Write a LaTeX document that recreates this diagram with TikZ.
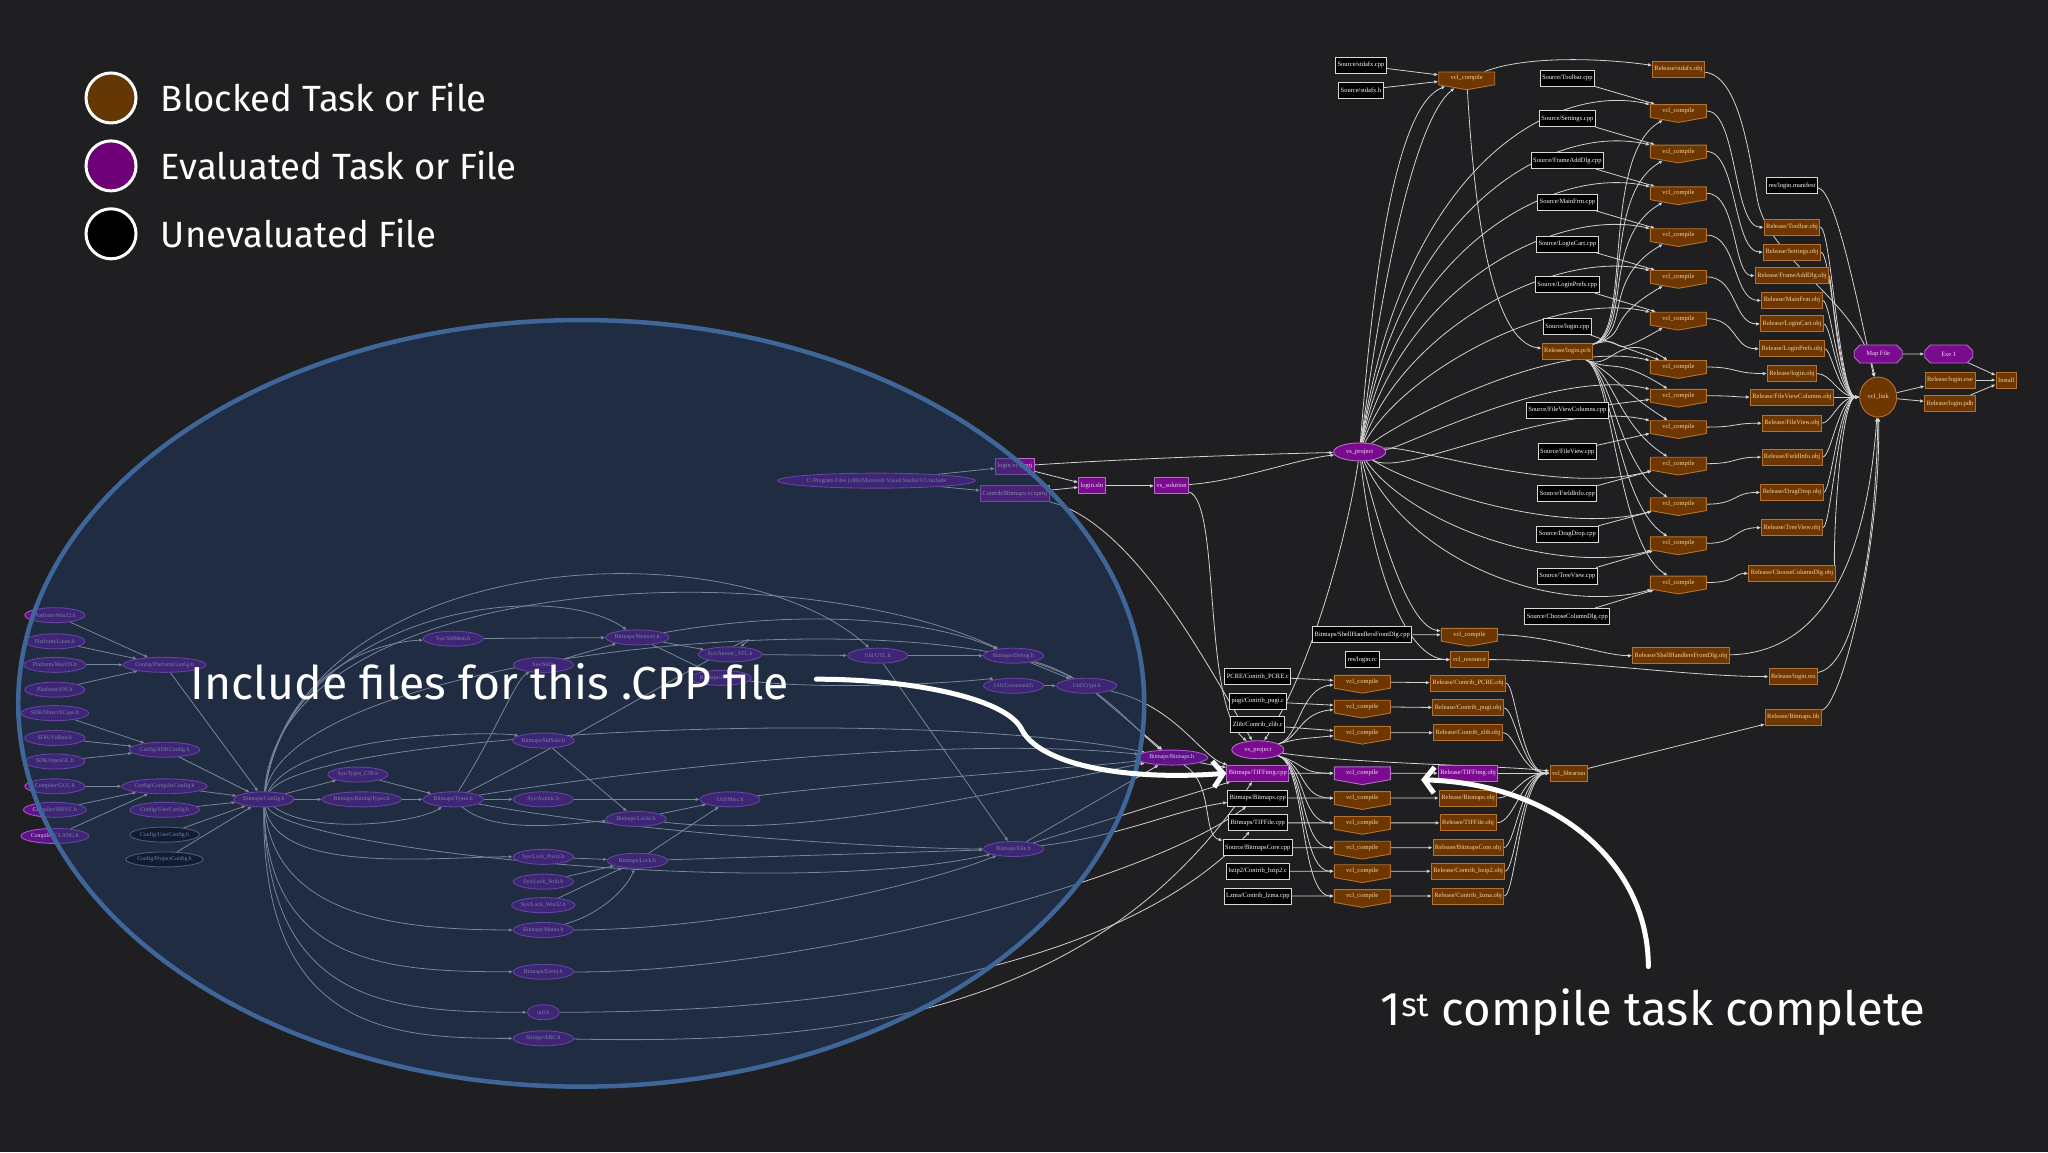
\documentclass[tikz,border=0pt]{standalone}
\usepackage{fontspec}
\newfontfamily\annfont{Fira Sans}
\newfontfamily\lblfont{Liberation Serif}
\usetikzlibrary{shapes.geometric,shapes.symbols,shapes.misc,arrows.meta}
\definecolor{bgc}{HTML}{1F1F21}
\definecolor{edgecol}{HTML}{D2D2D2}
\definecolor{srcdraw}{HTML}{D8D8D8}
\definecolor{brownfill}{HTML}{6E3700}
\definecolor{browndraw}{HTML}{B5722E}
\definecolor{browntext}{HTML}{F7D3A0}
\definecolor{purplefill}{HTML}{7A0A8E}
\definecolor{purpledraw}{HTML}{B070C8}
\definecolor{purpletext}{HTML}{F4D8F8}
\definecolor{incfill}{HTML}{5C1486}
\definecolor{incdraw}{HTML}{B050D8}
\definecolor{inctext}{HTML}{E0C8F8}
\definecolor{ovfill}{HTML}{1F3963}
\definecolor{ovdraw}{HTML}{3F6698}
\definecolor{legbrown}{HTML}{643705}
\definecolor{legpurple}{HTML}{6E0078}
\pgfdeclarelayer{bgl}\pgfdeclarelayer{edl}\pgfdeclarelayer{ovl}
\pgfsetlayers{bgl,edl,main,ovl}
\tikzset{
 nb/.style={font=\lblfont\fontsize{6.5}{6.5}\selectfont, inner sep=2pt, line width=0.9pt},
 src/.style={nb, rectangle, draw=srcdraw, fill=black, text=white, minimum height=16pt},
 task/.style={nb, signal, signal to=south, signal pointer angle=160, draw=browndraw, fill=brownfill, text=browntext, minimum width=56pt, minimum height=16pt},
 obj/.style={nb, rectangle, draw=browndraw, fill=brownfill, text=browntext, minimum height=16pt},
 ptask/.style={task, draw=purpledraw, fill=purplefill, text=purpletext},
 pbox/.style={nb, rectangle, draw=purpledraw, fill=purplefill, text=purpletext, minimum height=16pt},
 pell/.style={nb, ellipse, draw=purpledraw, fill=purplefill, text=purpletext, minimum height=18pt, minimum width=52pt, inner sep=0.5pt},
 poct/.style={nb, chamfered rectangle, draw=purpledraw, fill=purplefill, text=purpletext, minimum height=18pt, minimum width=48pt},
 inc/.style={nb, ellipse, draw=incdraw, fill=incfill, text=inctext, minimum height=15pt, minimum width=60pt, inner sep=0pt, font=\lblfont\fontsize{5.8}{5.8}\selectfont},
 incu/.style={inc, fill=black, draw=gray},
 ed/.style={draw=edgecol, line width=0.8pt, -{Latex[length=4pt,width=3.5pt]}},
 hc/.style={to path={.. controls +(#1,0) and +(-#1,0) .. (\tikztotarget)}},
 hc/.default=30,
 ann/.style={draw=white, line width=5pt, line cap=round, -{Straight Barb[length=10pt,width=26pt]}},
 legc/.style={circle, minimum size=50pt, draw=white, line width=3pt},
 legt/.style={anchor=west, inner sep=0pt, text=white, font=\annfont\fontsize{36.5}{36.5}\selectfont},
 bigt/.style={anchor=west, inner sep=0pt, text=white, font=\annfont\fontsize{46.3}{46.3}\selectfont}
}
\begin{document}
\begin{tikzpicture}[x=1.306122pt,y=-1.306122pt]
\begin{pgfonlayer}{bgl}
\fill[bgc] (0,0) rectangle (1568,882);
\end{pgfonlayer}
\useasboundingbox (0,0) rectangle (1568,882);

% legend
\node[legc, fill=legbrown] (lc1) at (85,75) {};
\node[legc, fill=legpurple] (lc2) at (85,127) {};
\node[legc, fill=black] (lc3) at (85,179) {};
\node[legt] (lt1) at (123,75) {Blocked Task or File};
\node[legt] (lt2) at (123,127) {Evaluated Task or File};
\node[legt] (lt3) at (123,179) {Unevaluated File};

% ---------- right graph ----------
\node[src] (sa) at (1042,50) {Source/stdafx.cpp};
\node[src] (sh) at (1042,69) {Source/stdafx.h};
\node[task] (c0) at (1123,60) {vcl\_compile};
\node[obj] (ra) at (1285,53) {Release/stdafx.obj};
\node[src] (man) at (1372,142) {res/login.manifest};
\node[obj] (pch) at (1200,269) {Release/login.pch};
\foreach \i/\sy/\cy/\ry/\nm in {1/60/85/174/Toolbar, 2/91/116/193/Settings, 3/123/148/211/FrameAddDlg, 4/155/180/230/MainFrm, 5/187/212/248/LoginCart, 6/218/244/267/LoginPrefs, 7/250/281/286/login, 8/314/303/304/FileViewColumns, 9/346/327/324/FileView, 10/378/355/350/FieldInfo, 11/409/386/377/DragDrop, 12/441/416/404/TreeView, 13/472/446/439/ChooseColumnDlg}{
  \node[src] (s\i) at (1200,\sy) {Source/\nm.cpp};
  \node[task] (c\i) at (1285,\cy) {vcl\_compile};
  \node[obj] (r\i) at (1372,\ry) {Release/\nm.obj};
}
\node[obj, ellipse, minimum width=37pt, minimum height=40pt] (link) at (1438,304) {vcl\_link};
\node[poct] (map) at (1438,271) {Map File};
\node[poct] (exe1) at (1492,271) {Exe 1};
\node[obj] (exe) at (1493,291) {Release/login.exe};
\node[obj] (pdb) at (1493,309) {Release/login.pdb};
\node[obj] (inst) at (1536,291) {Install};
\node[pell] (vs) at (1041,346) {vs\_project};

\node[pbox] (A) at (777,357) {login.vcxproj};
\node[pbox] (B) at (777,378) {Contrib/Bitmaps.vcxproj};
\node[pbox] (C) at (836,372) {login.sln};
\node[pbox] (D) at (897,372) {vs\_solution};
\node[inc, minimum width=165pt] (VS) at (671,368) {C:/Program Files (x86)/Microsoft Visual Studio/VC/include};

\node[src] (fd) at (1043,486) {Bitmaps/ShellHandlersFrontDlg.cpp};
\node[task] (cf) at (1125,486) {vcl\_compile};
\node[obj] (rf) at (1287,502) {Release/ShellHandlersFrontDlg.obj};
\node[src] (rc) at (1043,505) {res/login.rc};
\node[obj] (cres) at (1125,505) {vcl\_resource};
\node[obj] (rres) at (1373,518) {Release/login.res};
\node[obj] (blib) at (1373,549) {Release/Bitmaps.lib};

\node[src] (p1) at (963,518) {PCRE/Contrib\_PCRE.c};
\node[task] (k1) at (1043,522) {vcl\_compile};
\node[obj] (o1) at (1124,523) {Release/Contrib\_PCRE.obj};
\node[src] (p2) at (963,537) {pugi/Contrib\_pugi.c};
\node[task] (k2) at (1043,541) {vcl\_compile};
\node[obj] (o2) at (1124,542) {Release/Contrib\_pugi.obj};
\node[src] (p3) at (963,555) {Zlib/Contrib\_zlib.c};
\node[task] (k3) at (1043,561) {vcl\_compile};
\node[obj] (o3) at (1124,561) {Release/Contrib\_zlib.obj};
\node[pell] (vp2) at (963,574) {vs\_project};
\node[pbox] (p4) at (963,592) {Bitmaps/TIFFimg.cpp};
\node[ptask] (k4) at (1043,592) {vcl\_compile};
\node[pbox] (o4) at (1124,592) {Release/TIFFimg.obj};
\node[obj] (lib) at (1201,592) {vcl\_librarian};
\node[src] (p5) at (963,611) {Bitmaps/Bitmaps.cpp};
\node[task] (k5) at (1043,611) {vcl\_compile};
\node[obj] (o5) at (1124,611) {Release/Bitmaps.obj};
\node[src] (p6) at (963,630) {Bitmaps/TIFFile.cpp};
\node[task] (k6) at (1043,630) {vcl\_compile};
\node[obj] (o6) at (1124,630) {Release/TIFFile.obj};
\node[src] (p7) at (963,649) {Source/BitmapsCore.cpp};
\node[task] (k7) at (1043,649) {vcl\_compile};
\node[obj] (o7) at (1124,649) {Release/BitmapsCore.obj};
\node[src] (p8) at (963,667) {bzip2/Contrib\_bzip2.c};
\node[task] (k8) at (1043,667) {vcl\_compile};
\node[obj] (o8) at (1124,667) {Release/Contrib\_bzip2.obj};
\node[src] (p9) at (963,686) {Lzma/Contrib\_lzma.cpp};
\node[task] (k9) at (1043,686) {vcl\_compile};
\node[obj] (o9) at (1124,686) {Release/Contrib\_lzma.obj};

% ---------- left include graph ----------
\node[inc] (L1) at (42,471) {Platform/Win32.h};
\node[inc] (L2) at (42,491) {Platform/Linux.h};
\node[inc] (L3) at (42,509) {Platform/MacOS.h};
\node[inc] (L4) at (42,528) {Platform/iOS.h};
\node[inc] (L5) at (42,546) {SDK/DirectXCaps.h};
\node[inc] (L6) at (42,565) {SDK/Vulkan.h};
\node[inc] (L7) at (42,583) {SDK/OpenGL.h};
\node[inc] (L8) at (42,602) {Compiler/GCC.h};
\node[inc] (L9) at (42,620) {Compiler/MSVC.h};
\node[inc] (L10) at (42,640) {Compiler/CLANG.h};
\node[inc] (K1) at (126,509) {Config/PlatformConfig.h};
\node[inc] (K2) at (126,574) {Config/SDKConfig.h};
\node[inc] (K3) at (126,602) {Config/CompilerConfig.h};
\node[inc] (K4) at (126,620) {Config/UserConfig.h};
\node[incu] (K5) at (126,639) {Config/UserConfig.h};
\node[incu] (K6) at (126,658) {Config/ProjectConfig.h};
\node[inc] (BC) at (202,612) {Bitmaps/Config.h};
\node[inc] (T99) at (274,593) {Sys/Types\_C99.h};
\node[inc] (BT) at (277,612) {Bitmaps/BitmapTypes.h};
\node[inc] (TY) at (347,612) {Bitmaps/Types.h};
\node[inc] (SM) at (347,489) {Sys/StdMem.h};
\node[inc] (ST) at (416,509) {Sys/Std.h};
\node[inc] (BM) at (488,488) {Bitmaps/Memory.h};
\node[inc] (AS) at (559,501) {Sys/Atomic\_STL.h};
\node[inc] (HID) at (552,519) {Bitmaps/Atomic.h};
\node[inc] (UT) at (672,502) {Util/UTL.h};
\node[inc] (BD) at (776,502) {Bitmaps/Debug.h};
\node[inc] (UC) at (776,525) {Util/Command.h};
\node[inc] (CR) at (832,525) {Util/Crypt.h};
\node[inc] (BS) at (416,567) {Bitmaps/StdSafe.h};
\node[inc] (SA) at (416,612) {Sys/Atomic.h};
\node[inc] (UM) at (559,612) {Util/Misc.h};
\node[inc] (BL) at (487,627) {Bitmaps/Locks.h};
\node[inc] (BF) at (776,650) {Bitmaps/File.h};
\node[inc] (LP) at (416,656) {Sys/Lock\_Posix.h};
\node[inc] (BLK) at (488,659) {Bitmaps/Lock.h};
\node[inc] (LS) at (416,675) {Sys/Lock\_Stub.h};
\node[inc] (LW) at (416,693) {Sys/Lock\_Win32.h};
\node[inc] (MX) at (416,712) {Bitmaps/Mutex.h};
\node[inc] (EV) at (416,744) {Bitmaps/Event.h};
\node[inc, minimum width=32pt] (UH) at (416,775) {util.h};
\node[inc] (UA) at (416,795) {Strings/ABC.h};
\node[inc, minimum width=72pt] (BB) at (897,580) {Bitmaps/Bitmaps.h};

% ---------- edges ----------
\begin{pgfonlayer}{edl}
\draw[ed] (sa) -- (c0);
\draw[ed] (sh) -- (c0);
\draw[ed] (c0) .. controls (1170,42) and (1230,45) .. (ra);
\draw[ed] (c0) .. controls (1128,150) and (1140,262) .. (pch);
\draw[ed] (ra) .. controls (1330,58) and (1338,110) .. (1345,150) .. controls (1352,200) and (1425,230) .. (link);
\draw[ed] (man) .. controls (1405,145) and (1422,230) .. (link);
\draw[ed] (vs) .. controls (1052,200) and (1070,80) .. (c0);
\draw[ed] (vs) .. controls (1060,200) and (1085,90) .. (c0);
\foreach \i in {1,...,13}{
  \draw[ed] (s\i) -- (c\i);
  \draw[ed] (c\i) to[hc=45] (r\i);
  \draw[ed] (r\i) to[hc=30] (link);
}
\foreach \i/\y in {1/85,2/116,3/148,4/180,5/212,6/244,7/281,8/303,9/327}{
  \draw[ed] (vs) .. controls (1075,\y+40) and (1190,\y-22) .. (c\i);
}
\foreach \i/\y in {10/355,11/386,12/416,13/446}{
  \draw[ed] (vs) .. controls (1080,\y-15) and (1190,\y+25) .. (c\i);
}
\foreach \i/\y in {1/85,2/116,3/148,4/180,5/212,6/244}{
  \draw[ed] (pch) .. controls (1250,255) and (1225,\y+35) .. (c\i);
}
\foreach \i/\y in {7/281,8/303,9/327,10/355,11/386,12/416,13/446}{
  \draw[ed] (pch) .. controls (1235,285) and (1238,\y-30) .. (c\i);
}
\draw[ed] (link) -- (exe);
\draw[ed] (link) -- (pdb);
\draw[ed] (map) -- (exe1);
\draw[ed] (exe1) -- (inst);
\draw[ed] (exe) -- (inst);
\draw[ed] (pdb) -- (inst);

\draw[ed] (fd) -- (cf);
\draw[ed] (rc) -- (cres);
\draw[ed] (cf) to[hc=60] (rf);
\draw[ed] (cres) to[hc=80] (rres);
\draw[ed] (vs) .. controls (1060,420) and (1080,480) .. (cf);
\draw[ed] (vs) .. controls (1050,430) and (1075,505) .. (cres);
\draw[ed] (vs) .. controls (1030,420) and (1000,520) .. (vp2);
\draw[ed] (rf) .. controls (1400,500) and (1430,420) .. (link);
\draw[ed] (rres) .. controls (1420,510) and (1436,420) .. (link);
\draw[ed] (blib) .. controls (1410,540) and (1440,420) .. (link);
\foreach \i in {1,...,9}{
  \draw[ed] (p\i) -- (k\i);
  \draw[ed] (k\i) -- (o\i);
}
\foreach \i/\y in {1/522,2/541,3/561}{
  \draw[ed] (vp2) .. controls (995,565) and (995,\y+5) .. (k\i);
}
\foreach \i/\y in {4/592,5/611,6/630,7/649,8/667,9/686}{
  \draw[ed] (vp2) .. controls (1000,585) and (995,\y) .. (k\i);
}
\foreach \i/\y in {1/523,2/542,3/561,4/592,5/611,6/630,7/649,8/667,9/686}{
  \draw[ed] (o\i) .. controls (1160,\y) and (1165,592) .. (lib);
}
\draw[ed] (vp2) .. controls (1040,585) and (1150,586) .. (lib);
\draw[ed] (lib) -- (blib);

\draw[ed] (VS) -- (A);
\draw[ed] (VS) -- (B);
\draw[ed] (A) -- (C);
\draw[ed] (B) -- (C);
\draw[ed] (C) -- (D);
\draw[ed] (D) .. controls (950,368) and (990,352) .. (vs);
\draw[ed] (A) .. controls (850,352) and (950,348) .. (vs);
\draw[ed] (D) .. controls (935,385) and (920,540) .. (vp2);
\draw[ed] (B) .. controls (870,400) and (930,520) .. (vp2);

\foreach \a in {L1,L2,L3,L4} \draw[ed] (\a) -- (K1);
\foreach \a in {L5,L6,L7} \draw[ed] (\a) -- (K2);
\foreach \a in {L8,L9,L10} \draw[ed] (\a) -- (K3);
\foreach \a in {K1,K2,K3,K4,K5,K6} \draw[ed] (\a) -- (BC);
\draw[ed] (BC) -- (T99);
\draw[ed] (BC) -- (BT);
\draw[ed] (T99) -- (TY);
\draw[ed] (BT) -- (TY);
\draw[ed] (BC) .. controls (240,640) and (320,630) .. (TY);
\draw[ed] (BC) .. controls (215,520) and (280,492) .. (SM);
\draw[ed] (BC) .. controls (215,440) and (600,420) .. (BD);
\draw[ed] (BC) .. controls (220,470) and (420,440) .. (BM);
\draw[ed] (BC) .. controls (225,500) and (700,455) .. (CR);
\draw[ed] (BC) .. controls (240,560) and (700,540) .. (BB);
\draw[ed] (BC) .. controls (230,420) and (560,400) .. (UT);
\draw[ed] (BC) .. controls (210,700) and (300,712) .. (MX);
\draw[ed] (BC) .. controls (205,740) and (300,744) .. (EV);
\draw[ed] (BC) .. controls (205,770) and (300,775) .. (UH);
\draw[ed] (BC) .. controls (200,790) and (300,795) .. (UA);
\draw[ed] (BC) .. controls (212,670) and (330,656) .. (LP);
\draw[ed] (BC) .. controls (220,650) and (600,690) .. (BF);
\draw[ed] (BC) .. controls (230,560) and (380,560) .. (BS);
\draw[ed] (TY) .. controls (380,560) and (395,520) .. (ST);
\draw[ed] (TY) -- (SA);
\draw[ed] (TY) .. controls (380,640) and (440,630) .. (BL);
\draw[ed] (TY) .. controls (420,600) and (700,560) .. (BB);
\draw[ed] (TY) .. controls (500,640) and (700,650) .. (BF);
\draw[ed] (TY) .. controls (450,560) and (600,470) .. (AS);
\draw[ed] (SM) -- (BM);
\draw[ed] (ST) -- (BM);
\draw[ed] (BM) -- (AS);
\draw[ed] (BM) -- (HID);
\draw[ed] (AS) -- (UT);
\draw[ed] (UT) -- (BD);
\draw[ed] (BM) .. controls (600,468) and (700,470) .. (BD);
\draw[ed] (UC) -- (CR);
\draw[ed] (BD) -- (CR);
\draw[ed] (HID) .. controls (650,530) and (760,520) .. (UC);
\draw[ed] (UT) -- (BF);
\draw[ed] (BS) -- (BL);
\draw[ed] (SA) -- (UM);
\draw[ed] (BL) -- (UM);
\draw[ed] (BLK) -- (UM);
\draw[ed] (LP) -- (BLK);
\draw[ed] (LS) -- (BLK);
\draw[ed] (LW) -- (BLK);
\draw[ed] (MX) .. controls (460,700) and (480,680) .. (BLK);
\draw[ed] (BLK) -- (BF);
\draw[ed] (BL) .. controls (600,640) and (700,620) .. (BB);
\draw[ed] (UM) .. controls (650,600) and (800,590) .. (BB);
\draw[ed] (CR) -- (BB);
\draw[ed] (BD) .. controls (840,520) and (870,560) .. (BB);
\draw[ed] (BF) -- (BB);
\draw[ed] (MX) .. controls (550,712) and (700,680) .. (BF);
\draw[ed] (EV) .. controls (600,745) and (870,680) .. (p5);
\draw[ed] (UH) .. controls (650,775) and (860,740) .. (p6);
\draw[ed] (UA) .. controls (650,800) and (840,775) .. (p4);
\draw[ed] (BB) -- (p4);
\draw[ed] (BF) -- (p4);
\draw[ed] (BF) .. controls (860,640) and (900,620) .. (p5);
\draw[ed] (BB) .. controls (930,600) and (920,640) .. (p7);
\draw[ed] (CR) .. controls (900,540) and (920,580) .. (p4);
\end{pgfonlayer}

% ---------- overlay & annotations ----------
\begin{pgfonlayer}{ovl}
\fill[ovfill, opacity=0.5] (445,538.5) ellipse [x radius=563pt, y radius=383.3pt];
\draw[ovdraw, line width=4.5pt] (445,538.5) ellipse [x radius=563pt, y radius=383.3pt];
\node[bigt] (inctxt) at (146,522) {Include files for this .CPP file};
\coordinate (a1s) at (625,520);
\coordinate (a1k) at (782,558);
\draw[ann] (a1s) .. controls (700,520) and (770,535) .. (a1k) .. controls (795,585) and (860,598) .. (p4.west);
\node[bigt, font=\annfont\fontsize{47.3}{47.3}\selectfont] (cmptxt) at (1057,775) {1\textsuperscript{st} compile task complete};
\coordinate (a2s) at (1262,740);
\coordinate (a2t) at (1088,597);
\draw[ann] (a2s) .. controls (1262,660) and (1190,600) .. (a2t);
\end{pgfonlayer}
\end{tikzpicture}
\end{document}
